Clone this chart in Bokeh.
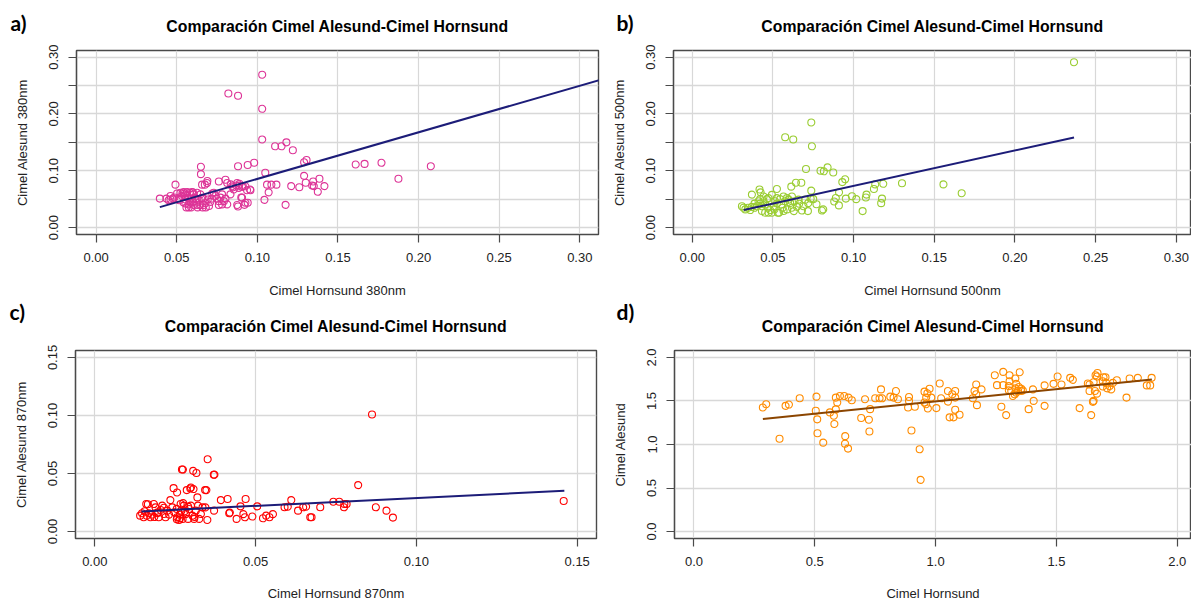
from bokeh.plotting import figure
from bokeh.layouts import column, row
from bokeh.models import FixedTicker, CustomJSTickFormatter
from bokeh.core.properties import value
from bokeh.embed import file_html
from bokeh.resources import INLINE

# ---------------- data ----------------
title_text = "Comparación Cimel Alesund-Cimel Hornsund"

a_x = [0.0395, 0.0436, 0.0461, 0.0492, 0.0461, 0.0477, 0.0502, 0.0512, 0.0523, 0.0533, 0.0543, 0.0554,
       0.0564, 0.058, 0.0595, 0.0605, 0.0543, 0.0554, 0.0574, 0.0585, 0.0605, 0.0626, 0.0647, 0.0667,
       0.0678, 0.0585, 0.0616, 0.0636, 0.0657, 0.0647, 0.0626, 0.065, 0.065, 0.0657, 0.0674, 0.0688,
       0.069, 0.0667, 0.0692, 0.0709, 0.0719, 0.073, 0.074, 0.075, 0.0761, 0.0771, 0.0781, 0.0792,
       0.0802, 0.0761, 0.0802, 0.0813, 0.0843, 0.0854, 0.0781, 0.0761, 0.0813, 0.0833, 0.0875, 0.0885,
       0.0885, 0.0905, 0.0926, 0.0936, 0.0957, 0.0905, 0.0875, 0.0926, 0.094, 0.0515, 0.0535, 0.055,
       0.056, 0.0575, 0.059, 0.06, 0.061, 0.062, 0.063, 0.066, 0.068, 0.057, 0.0555, 0.06, 0.07, 0.072,
       0.045, 0.0485, 0.082, 0.088, 0.103, 0.103, 0.103, 0.088, 0.094, 0.098, 0.1049, 0.106, 0.1087,
       0.1118, 0.107, 0.1044, 0.111, 0.115, 0.118, 0.122, 0.1175, 0.121, 0.126, 0.129, 0.1305, 0.129,
       0.13, 0.1346, 0.134, 0.1385, 0.135, 0.1375, 0.1416, 0.161, 0.1665, 0.177, 0.1875, 0.2076, 0.088,
       0.09, 0.092, 0.0835, 0.085, 0.087, 0.089, 0.091, 0.0955]
a_y = [0.051, 0.051, 0.0556, 0.0755, 0.0493, 0.051, 0.06, 0.051, 0.0613, 0.0556, 0.0624, 0.0567,
       0.0624, 0.0613, 0.0624, 0.0584, 0.0443, 0.0425, 0.0408, 0.0443, 0.0397, 0.0397, 0.0397, 0.0397,
       0.0431, 0.051, 0.05, 0.049, 0.0522, 0.0584, 0.0613, 0.094, 0.107, 0.0755, 0.0755, 0.0784,
       0.082, 0.051, 0.0493, 0.0453, 0.051, 0.0613, 0.0556, 0.051, 0.0465, 0.0527, 0.0584, 0.0465,
       0.051, 0.0812, 0.0841, 0.0784, 0.0727, 0.067, 0.0408, 0.0397, 0.0408, 0.0584, 0.0784, 0.0698,
       0.0738, 0.0716, 0.0727, 0.0658, 0.0658, 0.0527, 0.0397, 0.0436, 0.0436, 0.048, 0.06, 0.06,
       0.0355, 0.0355, 0.0355, 0.046, 0.053, 0.044, 0.0355, 0.0355, 0.0355, 0.052, 0.0495, 0.062, 0.038, 0.06,
       0.048, 0.053, 0.236, 0.232, 0.269, 0.209, 0.155, 0.108, 0.11, 0.114, 0.0965, 0.0755, 0.0755,
       0.0755, 0.062, 0.0488, 0.143, 0.143, 0.15, 0.136, 0.04, 0.073, 0.071, 0.115, 0.119, 0.091,
       0.079, 0.081, 0.074, 0.086, 0.073, 0.063, 0.073, 0.111, 0.112, 0.114, 0.086, 0.108, 0.037,
       0.053, 0.04, 0.076, 0.071, 0.074, 0.077, 0.073, 0.067]

b_x = [0.0738, 0.0576, 0.0626, 0.0742, 0.0705, 0.0795, 0.0816, 0.0839, 0.0874, 0.093, 0.0948, 0.0643,
       0.0676, 0.0614, 0.0525, 0.0417, 0.0424, 0.037, 0.0738, 0.0734, 0.075, 0.077, 0.0719, 0.0717,
       0.0663, 0.0618, 0.063, 0.068, 0.0804, 0.0812, 0.089, 0.091, 0.0909, 0.088, 0.0952, 0.099, 0.1017,
       0.1056, 0.1076, 0.108, 0.1126, 0.1134, 0.1184, 0.1176, 0.1171, 0.13, 0.1557, 0.167, 0.2366,
       0.0308, 0.0318, 0.0329, 0.0345, 0.036, 0.037, 0.0386, 0.0401, 0.0411, 0.0421, 0.0432, 0.0442,
       0.0452, 0.0421, 0.0442, 0.0463, 0.0469, 0.0432, 0.0452, 0.0473, 0.0483, 0.0494, 0.0504, 0.051,
       0.0514, 0.0525, 0.0531, 0.0539, 0.0545, 0.0552, 0.056, 0.0566, 0.0576, 0.0587, 0.0597, 0.0607,
       0.0566, 0.0587, 0.0494, 0.0525, 0.0473, 0.0649, 0.0634, 0.0659, 0.069, 0.07, 0.0618, 0.0386]
b_y = [0.185, 0.159, 0.155, 0.143, 0.103, 0.1, 0.099, 0.106, 0.097, 0.08, 0.085, 0.079,
       0.079, 0.072, 0.068, 0.067, 0.062, 0.058, 0.065, 0.051, 0.05, 0.041, 0.043, 0.029,
       0.042, 0.035, 0.029, 0.03, 0.03, 0.032, 0.052, 0.062, 0.039, 0.046, 0.051, 0.055, 0.05,
       0.029, 0.053, 0.058, 0.068, 0.076, 0.077, 0.051, 0.043, 0.078, 0.076, 0.0605, 0.291,
       0.0376, 0.0348, 0.032, 0.0348, 0.0308, 0.0365, 0.0422, 0.0376, 0.0462, 0.0422, 0.0376, 0.0462,
       0.0405, 0.05, 0.0548, 0.05, 0.0348, 0.0291, 0.0262, 0.0262, 0.0308, 0.0262, 0.0376, 0.032,
       0.0462, 0.0422, 0.0262, 0.0262, 0.05, 0.0405, 0.0348, 0.0548, 0.0462, 0.0519, 0.0491, 0.0434,
       0.0291, 0.032, 0.0576, 0.0519, 0.0519, 0.0365, 0.0462, 0.0491, 0.0376, 0.0491, 0.0548, 0.0348]

c_x = [0.0141, 0.0147, 0.0152, 0.016, 0.0162, 0.0168, 0.0173, 0.0178, 0.0184, 0.0189, 0.0194, 0.0199,
       0.0205, 0.021, 0.0215, 0.022, 0.0225, 0.0231, 0.0235, 0.0241, 0.0245, 0.0247, 0.0256, 0.0256,
       0.0262, 0.0267, 0.0269, 0.0273, 0.0277, 0.0283, 0.0286, 0.029, 0.0293, 0.0299, 0.0299, 0.0304,
       0.0307, 0.0309, 0.0314, 0.0319, 0.0321, 0.0325, 0.033, 0.0335, 0.0343, 0.0347, 0.035, 0.0344,
       0.0371, 0.0372, 0.0392, 0.0413, 0.0418, 0.0274, 0.0316, 0.0351, 0.0271, 0.0306, 0.037, 0.0297,
       0.042, 0.0441, 0.0453, 0.0462, 0.0467, 0.049, 0.0505, 0.0523, 0.0533, 0.0543, 0.0554, 0.059,
       0.06, 0.0611, 0.0632, 0.0469, 0.0862, 0.0819, 0.0742, 0.076, 0.0776, 0.0783, 0.0775, 0.0701,
       0.0674, 0.067, 0.0648, 0.0657, 0.0874, 0.0907, 0.0927, 0.1458, 0.0155, 0.0165, 0.0185, 0.0195,
       0.0215, 0.0255, 0.0265, 0.0275, 0.028, 0.029, 0.031, 0.0255, 0.0265]
c_y = [0.0137, 0.0157, 0.0123, 0.0237, 0.0137, 0.0157, 0.0123, 0.0146, 0.0237, 0.0208, 0.0157, 0.0123,
       0.0186, 0.0223, 0.0151, 0.0123, 0.018, 0.0146, 0.0271, 0.0208, 0.0374, 0.0166, 0.0337, 0.0123,
       0.01, 0.0237, 0.018, 0.0109, 0.0223, 0.0151, 0.0357, 0.0109, 0.0194, 0.038, 0.0223, 0.0137,
       0.0366, 0.0109, 0.018, 0.0294, 0.0223, 0.0109, 0.0151, 0.0208, 0.0357, 0.0357, 0.01, 0.0208,
       0.018, 0.049, 0.0271, 0.028, 0.0157, 0.0534, 0.0505, 0.0623, 0.0534, 0.0523, 0.0489, 0.0371,
       0.0163, 0.0109, 0.0217, 0.015, 0.0123, 0.0129, 0.0217, 0.0114, 0.0137, 0.0123, 0.015, 0.0209,
       0.0214, 0.0271, 0.018, 0.028, 0.1009, 0.040, 0.0257, 0.0257, 0.0237, 0.0237, 0.0209, 0.0209,
       0.0123, 0.0123, 0.0209, 0.0214, 0.0209, 0.018, 0.012, 0.0263, 0.0175, 0.0235, 0.0125, 0.0165,
       0.0205, 0.0195, 0.0115, 0.0245, 0.0175, 0.0215, 0.0125, 0.0105, 0.0145]

d_x = [0.285, 0.299, 0.354, 0.379, 0.393, 0.4375, 0.507, 0.504, 0.51, 0.511, 0.535, 0.5625, 0.579,
       0.581, 0.587, 0.593, 0.587, 0.604, 0.622, 0.626, 0.625, 0.6375, 0.64, 0.653, 0.692, 0.708,
       0.724, 0.729, 0.726, 0.75, 0.768, 0.774, 0.779, 0.8125, 0.836, 0.826, 0.844, 0.89, 0.89, 0.886,
       0.914, 0.9, 0.934, 0.938, 0.954, 0.966, 0.975, 0.961, 0.982, 0.954, 0.961, 0.968, 1.003, 1.017,
       1.023, 1.051, 1.051, 1.058, 1.074, 1.069, 1.081, 1.081, 1.081, 1.099, 1.154, 1.161, 1.168,
       1.168, 1.171, 1.19, 1.245, 1.254, 1.272, 1.28, 1.28, 1.292, 1.306, 1.306, 1.303, 1.303, 1.313,
       1.32, 1.33, 1.334, 1.331, 1.334, 1.327, 1.348, 1.345, 1.354, 1.354, 1.341, 1.361, 1.385, 1.406,
       1.403, 1.451, 1.451, 1.488, 1.505, 1.521, 1.557, 1.568, 1.596, 1.63, 1.637, 1.654, 1.637,
       1.659, 1.668, 1.654, 1.651, 1.644, 1.662, 1.67, 1.668, 1.695, 1.703, 1.692, 1.706, 1.692, 1.71,
       1.727, 1.734, 1.75, 1.72, 1.79, 1.803, 1.837, 1.874, 1.888, 1.894]
d_y = [1.425, 1.463, 1.066, 1.444, 1.459, 1.531, 1.55, 1.388, 1.289, 1.13, 1.021, 1.369, 1.331,
       1.236, 1.403, 1.482, 1.539, 1.558, 1.558, 1.096, 1.009, 0.953, 1.539, 1.508, 1.304, 1.52,
       1.285, 1.406, 1.149, 1.531, 1.531, 1.633, 1.531, 1.55, 1.614, 1.539, 1.52, 1.546, 1.5, 1.425,
       1.433, 1.161, 0.945, 0.594, 1.607, 1.588, 1.641, 1.539, 1.539, 1.482, 1.463, 1.414, 1.418, 1.701,
       1.531, 1.614, 1.493, 1.312, 1.312, 1.577, 1.614, 1.539, 1.399, 1.342, 1.531, 1.614, 1.69,
       1.577, 1.452, 1.633, 1.796, 1.682, 1.433, 1.834, 1.682, 1.338, 1.727, 1.796, 1.671, 1.622, 1.614,
       1.558, 1.758, 1.697, 1.645, 1.596, 1.577, 1.83, 1.66, 1.641, 1.614, 1.614, 1.622, 1.406, 1.501,
       1.633, 1.679, 1.444, 1.697, 1.781, 1.69, 1.766, 1.743, 1.418, 1.701, 1.69, 1.716, 1.614,
       1.614, 1.584, 1.501, 1.49, 1.338, 1.796, 1.822, 1.781, 1.773, 1.773, 1.727, 1.708, 1.667, 1.645,
       1.633, 1.708, 1.739, 1.671, 1.539, 1.758, 1.766, 1.679, 1.679, 1.766]

# regression lines: intercept, slope, x start, x end
fit_intercept = [0.0036, 0.011, 0.0154, 1.213]
fit_slope = [0.82, 0.624, 0.1346, 0.282]
fit_x0 = [0.0395, 0.0319, 0.0145, 0.285]
fit_x1 = [0.33, 0.2366, 0.146, 1.895]

panel_tags = ["a)", "b)", "c)", "d)"]
x_labels = ["Cimel Hornsund 380nm", "Cimel Hornsund 500nm", "Cimel Hornsund 870nm", "Cimel Hornsund"]
y_labels = ["Cimel Alesund 380nm", "Cimel Alesund 500nm", "Cimel Alesund 870nm", "Cimel Alesund"]
ticks_ab = [0.0, 0.05, 0.10, 0.15, 0.20, 0.25, 0.30]
ticks_c = [0.0, 0.05, 0.10, 0.15]
ticks_d = [0.0, 0.5, 1.0, 1.5, 2.0]

# ---------------- styling ----------------
FONT = "Liberation Sans"
FRAME = "#4a4a4a"
GRID = "#d8d8d8"
LINE_BLUE = "#1c1c78"
LINE_BROWN = "#8B4500"


def fmt(step, digits):
    return CustomJSTickFormatter(args=dict(step=step, digits=digits), code="""
        const k = Math.round(tick / step);
        if (Math.abs(k * step - tick) > 1e-9) { return ""; }
        return Math.abs(tick).toFixed(digits);
    """)


def panel(xs, ys, color, line_color, i, w, h, borders, xr, yr, xt, yt, xfmt, yfmt, tag_off, xls):
    left, right, top, bottom = borders
    p = figure(width=w, height=h, x_range=xr, y_range=yr, output_backend="svg",
               toolbar_location=None, min_border_left=left, min_border_right=right,
               min_border_top=top, min_border_bottom=bottom)
    p.background_fill_color = "white"
    p.border_fill_color = "white"
    p.outline_line_color = FRAME
    p.outline_line_width = 1.4
    p.title.text = title_text
    p.title.align = "center"
    p.title.text_font = FONT
    p.title.text_font_size = "15.8px"
    p.title.text_font_style = "bold"
    p.title.text_color = "black"
    p.title.standoff = 31
    for ax, t, f, lab in ((p.xaxis[0], xt, xfmt, x_labels[i]), (p.yaxis[0], yt, yfmt, y_labels[i])):
        ax.ticker = FixedTicker(ticks=t)
        ax.formatter = f
        ax.axis_line_color = FRAME
        ax.axis_line_width = 1.2
        ax.major_tick_line_color = FRAME
        ax.major_tick_line_width = 1.2
        ax.major_tick_out = 8
        ax.major_tick_in = 0
        ax.minor_tick_line_color = None
        ax.major_label_text_font = FONT
        ax.major_label_text_font_size = "13px"
        ax.major_label_text_color = "#222222"
        ax.axis_label = lab
        ax.axis_label_text_font = FONT
        ax.axis_label_text_font_size = "13px"
        ax.axis_label_text_font_style = "normal"
        ax.axis_label_text_color = "#222222"
    p.xaxis[0].major_label_standoff = 10
    p.xaxis[0].axis_label_standoff = xls
    p.yaxis[0].major_label_standoff = 10
    p.yaxis[0].axis_label_standoff = 17
    p.yaxis[0].major_label_orientation = "vertical"
    p.xgrid.grid_line_color = GRID
    p.xgrid.grid_line_width = 1.2
    p.ygrid.grid_line_color = GRID
    p.ygrid.grid_line_width = 1.6
    p.scatter(xs, ys, marker="circle", size=7, fill_color=None, line_color=color, line_width=1.1)
    x0, x1 = fit_x0[i], fit_x1[i]
    p.line([x0, x1], [fit_intercept[i] + fit_slope[i] * x0, fit_intercept[i] + fit_slope[i] * x1],
           line_color=line_color, line_width=2)
    # panel tag, anchored at the frame's top-left corner and shifted in pixels
    p.text(x=[xr[0]], y=[yr[1]], text=[panel_tags[i]], x_offset=tag_off[0], y_offset=tag_off[1],
           text_font=value("Lato"), text_font_size="21px", text_font_style="bold",
           text_color="black", text_baseline="middle", text_align="left", level="overlay")
    return p


fa = panel(a_x, a_y, "#DD3497", LINE_BLUE, 0, 600, 300, (76, 2, 47, 64),
           (-0.0122, 0.3116), (-0.0122, 0.3116), ticks_ab, ticks_ab, fmt(0.05, 2), fmt(0.1, 2),
           (-66, -28), 18)
fb = panel(b_x, b_y, "#9ACD32", LINE_BLUE, 1, 591, 300, (73, 0, 47, 64),
           (-0.0116, 0.3094), (-0.0122, 0.3116), ticks_ab, ticks_ab, fmt(0.05, 2), fmt(0.1, 2),
           (-57, -28), 18)
fc = panel(c_x, c_y, "#FF0000", LINE_BLUE, 2, 600, 304, (75, 4, 49, 66),
           (-0.006, 0.156), (-0.006, 0.156), ticks_c, ticks_c, fmt(0.05, 2), fmt(0.05, 2),
           (-66, -39), 17)
fd = panel(d_x, d_y, "#FF8C00", LINE_BROWN, 3, 591, 304, (74, 0, 49, 66),
           (-0.0807, 2.059), (-0.08, 2.08), ticks_d, ticks_d, fmt(0.5, 1), fmt(0.5, 1),
           (-58, -39), 17)

layout = column(row(fa, fb), row(fc, fd))
open("out.html", "w").write(file_html(layout, INLINE))
